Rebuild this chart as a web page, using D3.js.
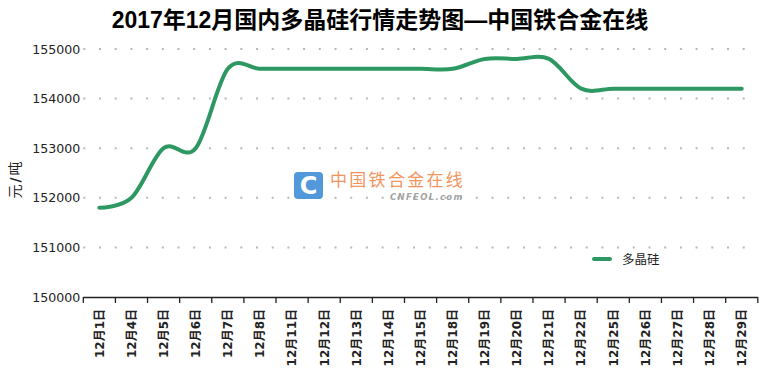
<!DOCTYPE html>
<html>
<head>
<meta charset="utf-8">
<script src="https://cdn.jsdelivr.net/npm/d3@7"></script>
<style>
  html, body { margin: 0; padding: 0; background: #fff; }
  svg { display: block; }
</style>
</head>
<body>
<svg id="chart" width="760" height="373"></svg>
<script>
// Daily polysilicon price, December 2017 (yuan / tonne)
const dates = ["12月1日","12月4日","12月5日","12月6日","12月7日","12月8日","12月11日","12月12日","12月13日","12月14日","12月15日","12月18日","12月19日","12月20日","12月21日","12月22日","12月25日","12月26日","12月27日","12月28日","12月29日"];
const prices = [151800,152000,153000,153000,154600,154600,154600,154600,154600,154600,154600,154600,154800,154800,154800,154200,154200,154200,154200,154200,154200];
const yTicks = [150000,151000,152000,153000,154000,155000];
const seriesName = "多晶硅";
const titleText = "2017年12月国内多晶硅行情走势图—中国铁合金在线";
const yTitleParts = ["元", "/", "吨"];

const svg = d3.select("#chart");
const plotLeft = 83.3, plotRight = 757.8, plotTop = 49, plotBottom = 297;
const lineColor = "#2e9862";
const cjk = "'Liberation Sans', 'Noto Sans CJK SC', sans-serif";
const tickFont = "'DejaVu Sans', 'Noto Sans CJK SC', sans-serif";

const x = d3.scaleBand().domain(dates).range([plotLeft, plotRight]).paddingInner(0).paddingOuter(0);
const y = d3.scaleLinear().domain([150000, 155000]).range([plotBottom, plotTop]);

// title
svg.append("text")
  .attr("x", 380).attr("y", 28)
  .attr("text-anchor", "middle")
  .attr("font-family", cjk)
  .attr("font-weight", "bold")
  .attr("font-size", 23)
  .attr("fill", "#000")
  .text(titleText);

// dotted horizontal grid
svg.append("g")
  .selectAll("line")
  .data(yTicks.filter(d => d !== 150000))
  .join("line")
  .attr("x1", plotLeft).attr("x2", plotRight - 4)
  .attr("y1", d => y(d)).attr("y2", d => y(d))
  .attr("stroke", "#b8b8b8")
  .attr("stroke-width", 2)
  .attr("stroke-dasharray", "2,13.7");

// y axis labels
const yAxis = d3.axisLeft(y).tickValues(yTicks).tickSize(0).tickPadding(3).tickFormat(d3.format("d"));
const gy = svg.append("g").attr("transform", `translate(${plotLeft},0)`).call(yAxis);
gy.select(".domain").remove();
gy.selectAll("text")
  .attr("font-family", tickFont)
  .attr("font-size", 12.6)
  .attr("fill", "#222");

// y axis title (bold slash between the unit characters)
const yt = svg.append("text")
  .attr("transform", "translate(20,180) rotate(-90)")
  .attr("text-anchor", "middle")
  .attr("font-family", "'Noto Sans CJK SC', sans-serif")
  .attr("font-size", 14)
  .attr("fill", "#222");
yTitleParts.forEach((p, i) => {
  yt.append("tspan")
    .attr("font-weight", i === 1 ? "900" : "normal")
    .attr("font-family", i === 1 ? "'DejaVu Sans', sans-serif" : null)
    .attr("dx", i === 1 ? 2 : (i === 2 ? 2 : 0))
    .text(p);
});

// x axis with ticks on band edges
const gx = svg.append("g").attr("transform", `translate(0,${plotBottom})`);
gx.append("line")
  .attr("x1", plotLeft).attr("x2", plotRight)
  .attr("y1", 0.5).attr("y2", 0.5)
  .attr("stroke", "#222").attr("stroke-width", 1.3);
const edges = dates.map(d => x(d)).concat([x(dates[dates.length - 1]) + x.bandwidth()]);
gx.selectAll("line.tick")
  .data(edges)
  .join("line")
  .attr("class", "tick")
  .attr("x1", d => d).attr("x2", d => d)
  .attr("y1", 0).attr("y2", 6)
  .attr("stroke", "#222").attr("stroke-width", 1.3);
gx.selectAll("text")
  .data(dates)
  .join("text")
  .attr("transform", d => `translate(${x(d) + x.bandwidth() / 2},12) rotate(-90)`)
  .attr("text-anchor", "end")
  .attr("dy", "0.36em")
  .attr("font-family", tickFont)
  .attr("font-weight", "bold")
  .attr("font-size", 12)
  .attr("fill", "#222")
  .text(d => d);

// watermark
const wm = svg.append("g").attr("opacity", 0.9);
wm.append("rect")
  .attr("x", 294).attr("y", 172).attr("width", 29).attr("height", 27).attr("rx", 4)
  .attr("fill", "#3f8fd8");
wm.append("text")
  .attr("x", 308.5).attr("y", 194)
  .attr("text-anchor", "middle")
  .attr("font-family", "'DejaVu Sans', sans-serif")
  .attr("font-weight", "bold")
  .attr("font-size", 24)
  .attr("fill", "#fff")
  .text("C");
wm.append("text")
  .attr("x", 330).attr("y", 186)
  .attr("font-family", "'Noto Sans CJK SC', sans-serif")
  .attr("font-size", 17)
  .attr("letter-spacing", 2.3)
  .attr("fill", "#f08a4e")
  .text("中国铁合金在线");
wm.append("text")
  .attr("x", 390).attr("y", 200)
  .attr("font-family", "'DejaVu Sans', sans-serif")
  .attr("font-style", "italic")
  .attr("font-weight", "bold")
  .attr("font-size", 8.5)
  .attr("letter-spacing", 1.3)
  .attr("fill", "#9a9a9a")
  .text("CNFEOL.com");

// price line
const line = d3.line()
  .x((d, i) => x(dates[i]) + x.bandwidth() / 2)
  .y(d => y(d))
  .curve(d3.curveCardinal.tension(0));
svg.append("path")
  .datum(prices)
  .attr("d", line)
  .attr("fill", "none")
  .attr("stroke", lineColor)
  .attr("stroke-width", 4)
  .attr("stroke-linecap", "round")
  .attr("stroke-linejoin", "round");

// legend
const lg = svg.append("g").attr("transform", "translate(594,259)");
lg.append("line")
  .attr("x1", 0).attr("x2", 16).attr("y1", 0).attr("y2", 0)
  .attr("stroke", lineColor).attr("stroke-width", 4).attr("stroke-linecap", "round");
lg.append("text")
  .attr("x", 28).attr("y", 0).attr("dy", "0.36em")
  .attr("font-family", "'Noto Sans CJK SC', sans-serif")
  .attr("font-size", 12.5)
  .attr("fill", "#222")
  .text(seriesName);
</script>
</body>
</html>
